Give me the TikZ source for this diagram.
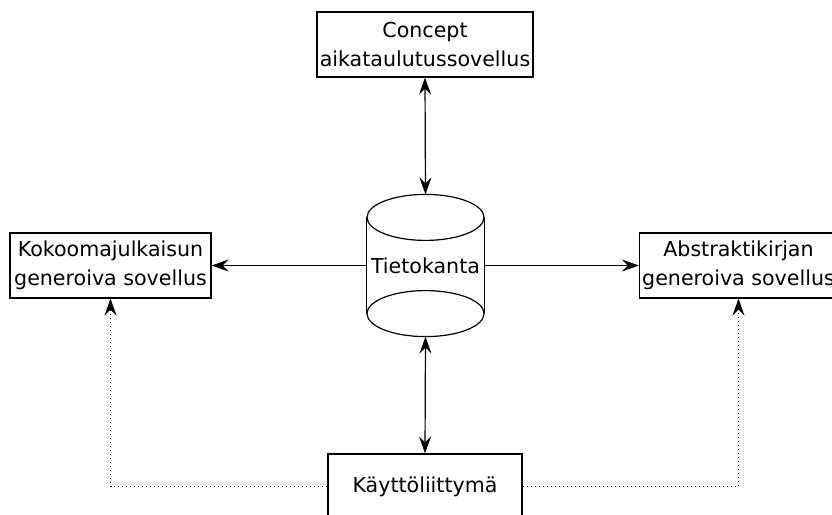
\documentclass[tikz,border=0pt]{standalone}
\usepackage{fontspec}
\setmainfont{DejaVu Sans}
\usetikzlibrary{arrows.meta}

\begin{document}
\begin{tikzpicture}[x=0.5pt,y=-0.5pt,line width=0.6pt,
font=\fontsize{10.3}{14.5}\selectfont,
box/.style={draw,rectangle,align=center,inner sep=0pt,minimum width=#1,minimum height=32.5pt},
tip/.style={-{Stealth[length=8.5pt,width=6pt,inset=3pt]}},
both/.style={{Stealth[length=8.5pt,width=6pt,inset=3pt]}-{Stealth[length=8.5pt,width=6pt,inset=3pt]}},
dots/.style={tip,dash pattern=on 0.5pt off 1.5pt}]
\clip (0,0) rectangle (832,515);
\node[box=108pt] (concept) at (425,44.5) {Concept\\aikataulutussovellus};
\node[box=100.5pt] (kokoelma) at (110.5,265.5) {Kokoomajulkaisun\\generoiva sovellus};
\node[box=99pt] (abstrakti) at (738.5,265.5) {Abstraktikirjan\\generoiva sovellus};
\node[box=97pt] (ui) at (425,486.5) {Käyttöliittymä};
\node[minimum width=58.5pt,minimum height=70.5pt,inner sep=0pt] (db) at (425.5,265.5) {Tietokanta};
\draw ([yshift=-11.5pt]db.north) ellipse [x radius=29.25pt,y radius=11.5pt];
\draw ([yshift=11.5pt]db.south) ellipse [x radius=29.25pt,y radius=11.5pt];
\draw ([yshift=-11.5pt]db.north west) -- ([yshift=11.5pt]db.south west);
\draw ([yshift=-11.5pt]db.north east) -- ([yshift=11.5pt]db.south east);
\draw[both] (concept.south) -- (db.north);
\draw[both] (db.south) -- (ui.north);
\draw[tip] (db.west) -- (kokoelma.east);
\draw[tip] (db.east) -- (abstrakti.west);
\draw[dots] (ui.west) -| (kokoelma.south);
\draw[dots] (ui.east) -| (abstrakti.south);
\end{tikzpicture}
\end{document}
